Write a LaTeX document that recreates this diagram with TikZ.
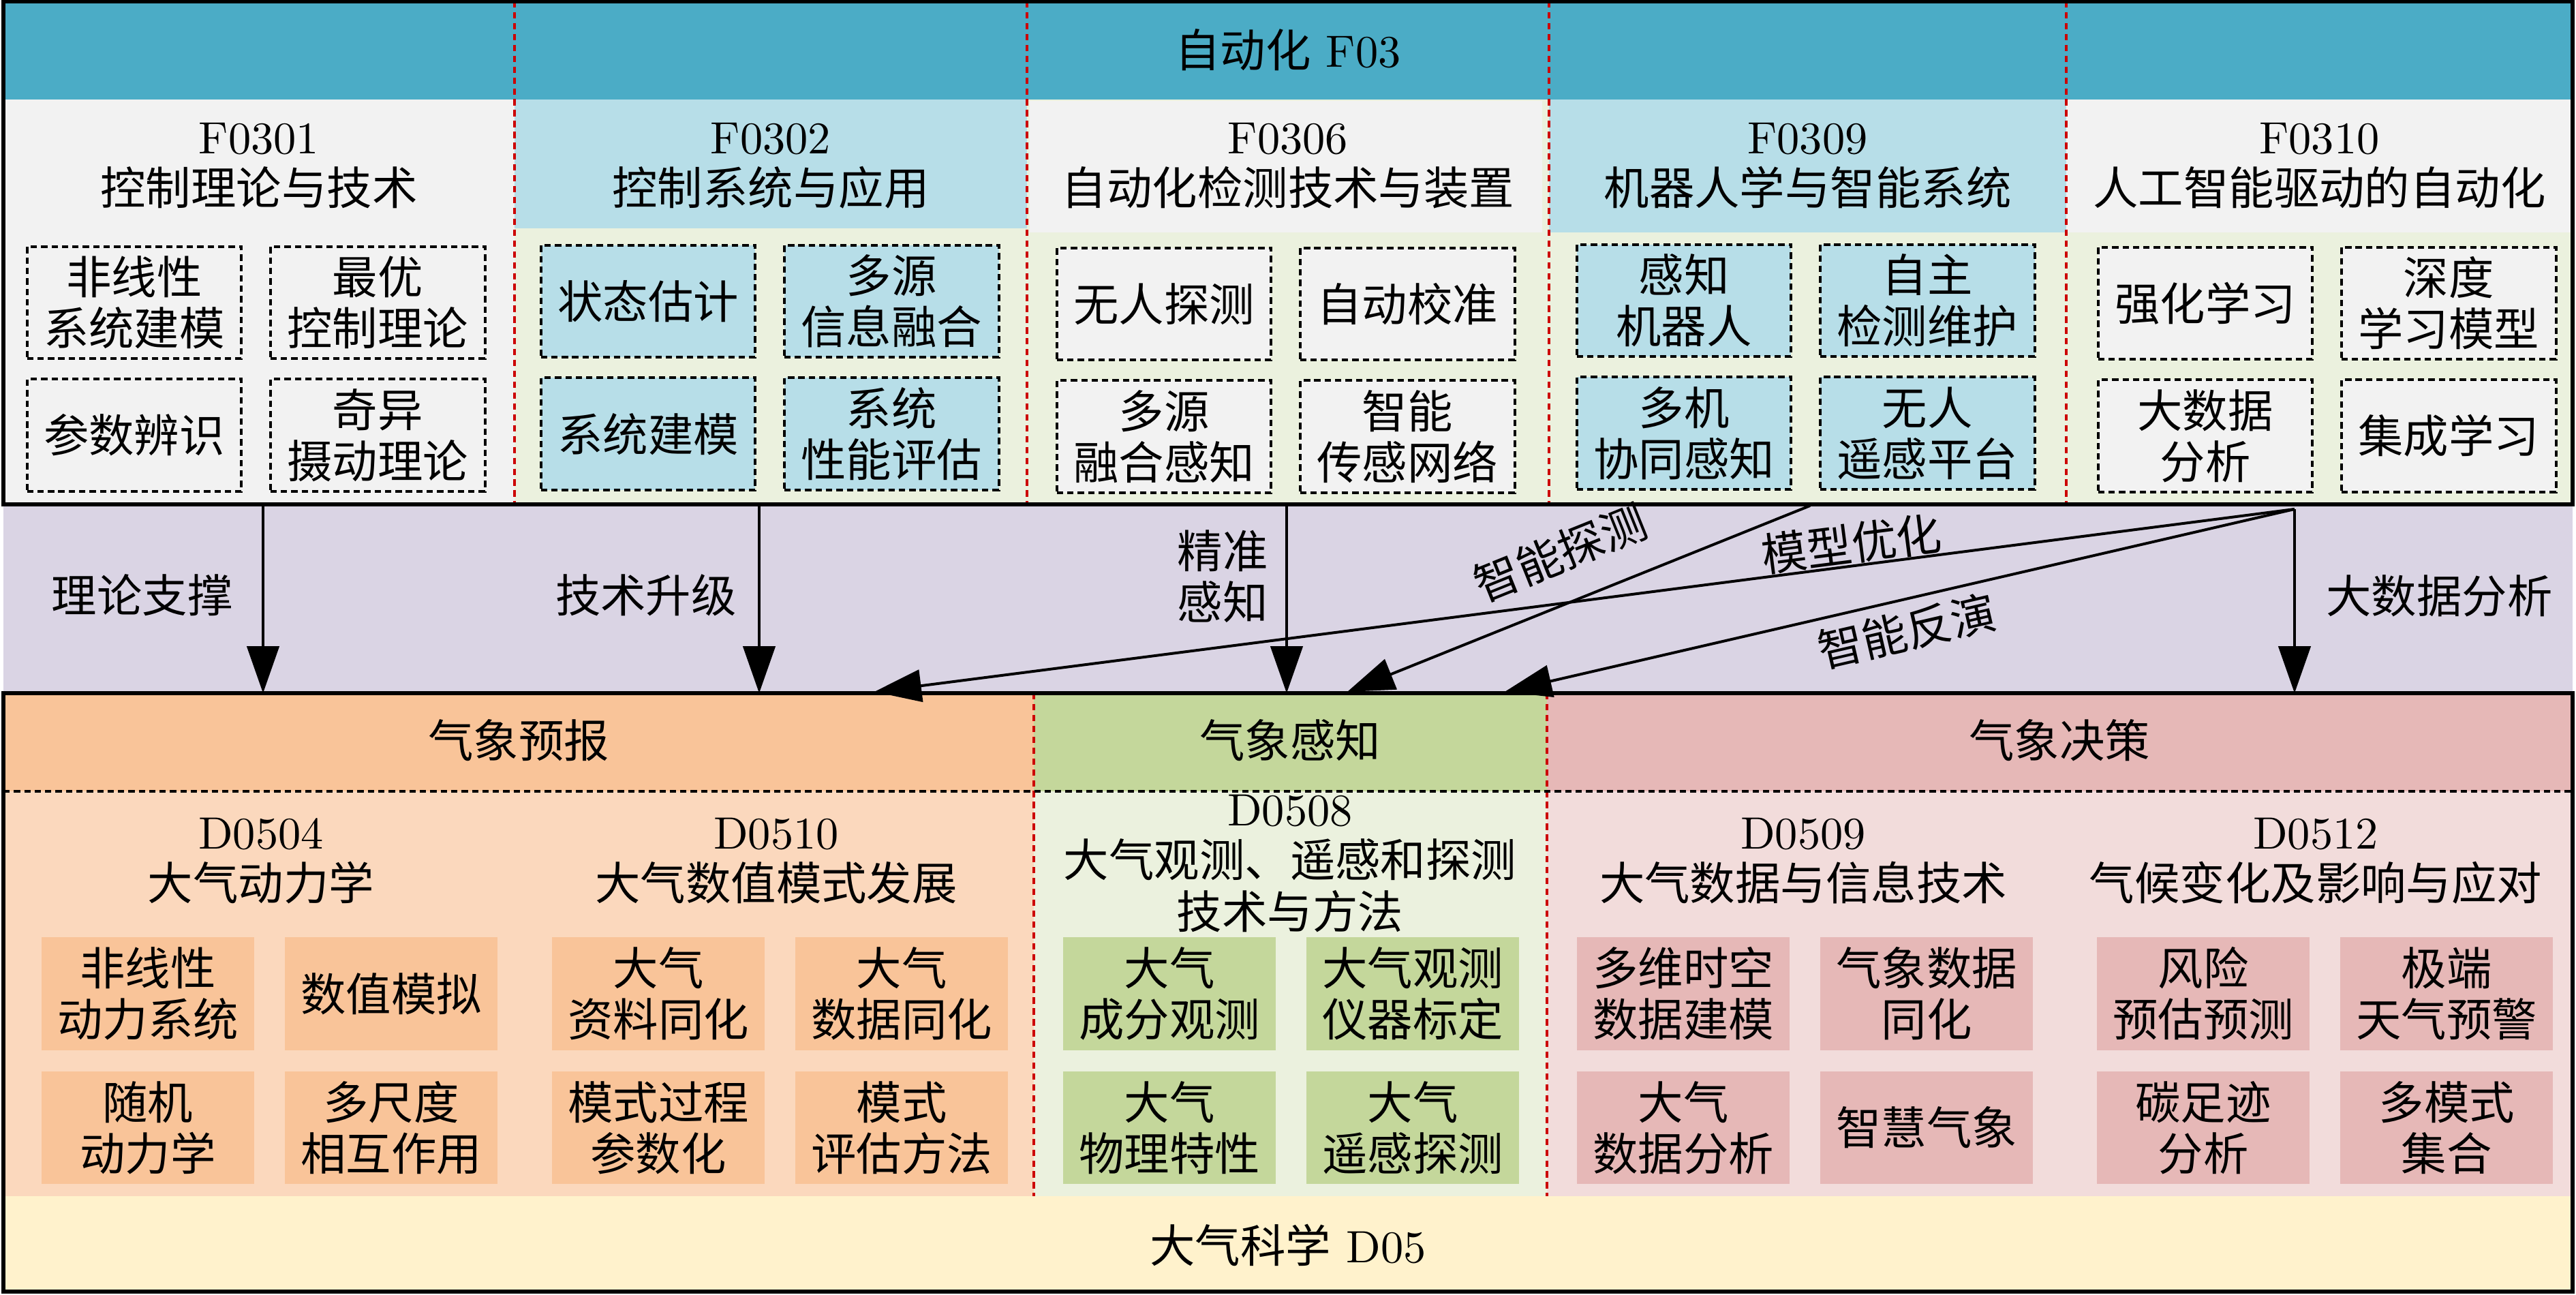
\documentclass[tikz,border=0pt]{standalone}
\usepackage{fontspec}
\newfontfamily\cjk{Noto Sans CJK SC}
\usepackage{tikz}
\usetikzlibrary{positioning, arrows.meta}

\definecolor{hdrteal}{RGB}{75,172,198}
\definecolor{ltblue}{RGB}{183,222,232}
\definecolor{ltgray}{RGB}{242,242,242}
\definecolor{ltgreen}{RGB}{235,241,222}
\definecolor{lavend}{RGB}{218,212,228}
\definecolor{orgdark}{RGB}{249,196,153}
\definecolor{orglight}{RGB}{251,216,189}
\definecolor{grndark}{RGB}{196,215,155}
\definecolor{reddark}{RGB}{230,184,183}
\definecolor{redlight}{RGB}{242,220,219}
\definecolor{ylwband}{RGB}{255,242,204}
\definecolor{dashred}{RGB}{204,0,0}

\newcommand{\zh}{\cjk\fontsize{10pt}{11.3pt}\selectfont}

\begin{document}
\begin{tikzpicture}[x=0.5291cm,y=0.5291cm,>={Triangle[length=3.65mm,width=2.5mm]},
                    semithick,node distance=1.89cm]
\tikzstyle{fbox}=[draw=black,line width=0.6pt,dash pattern=on 1.4pt off 0.9pt,minimum width=1.665cm,minimum height=0.87cm,inner sep=1pt,align=center,font=\zh]
\tikzstyle{sbox}=[draw=none,minimum width=1.65cm,minimum height=0.875cm,inner sep=1pt,align=center,font=\zh]
\tikzstyle{ttl}=[align=center,inner sep=1pt]
\tikzstyle{lbl}=[inner sep=1pt,font=\zh]
\tikzstyle{rdash}=[draw=dashred,line width=0.5pt,dash pattern=on 1.4pt off 1pt]
\tikzset{font=\fontsize{10pt}{11.3pt}\selectfont}

\useasboundingbox (0,0) rectangle (37.8,-19);

        % top block: F03
        \fill[hdrteal] (0.05,-0.02) rectangle (37.75,-1.46);
        \fill[ltgray]  (0.05,-1.46) rectangle (7.55,-7.40);
        \fill[ltblue]  (7.55,-1.46) rectangle (15.07,-3.35);
        \fill[ltgreen] (7.55,-3.35) rectangle (15.07,-7.40);
        \fill[ltgreen] (15.07,-1.46) rectangle (22.73,-7.40);
        \fill[ltgray]  (15.11,-1.48) rectangle (22.63,-3.41);
        \fill[ltblue]  (22.73,-1.46) rectangle (30.32,-3.41);
        \fill[ltgreen] (22.73,-3.41) rectangle (30.32,-7.40);
        \fill[ltgray]  (30.32,-1.46) rectangle (37.75,-3.41);
        \fill[ltgreen] (30.32,-3.41) rectangle (37.75,-7.40);

        % middle band
        \fill[lavend]  (0.05,-7.40) rectangle (37.75,-10.17);

        % lower block: D05
        \fill[orgdark]  (0.05,-10.17) rectangle (15.17,-11.61);
        \fill[orglight] (0.05,-11.61) rectangle (15.17,-17.55);
        \fill[grndark]  (15.17,-10.17) rectangle (22.70,-11.61);
        \fill[ltgreen]  (15.17,-11.61) rectangle (22.70,-17.55);
        \fill[reddark]  (22.70,-10.17) rectangle (37.75,-11.61);
        \fill[redlight] (22.70,-11.61) rectangle (37.75,-17.55);
        \fill[ylwband]  (0.05,-17.55) rectangle (37.75,-18.95);

        \foreach \x in {7.55,15.07,22.73,30.32}
            \draw[rdash] (\x,-0.02) -- (\x,-7.40);
        \foreach \x in {15.17,22.70}
            \draw[rdash] (\x,-10.17) -- (\x,-17.55);
        \draw[line width=0.6pt,dash pattern=on 1.4pt off 0.9pt] (0.05,-11.61) -- (37.75,-11.61);

        \draw[thick] (0.05,-0.02) rectangle (37.75,-7.40);
        \draw[thick] (0.05,-10.17) rectangle (37.75,-18.95);

        \node[ttl] (hd) at (18.90,-0.73) {{\cjk 自动化} F03};

        \node[ttl] (t1) at (3.80,-2.43)   {F0301\\{\cjk 控制理论与技术}};
        \node[ttl] (t2) at (11.31,-2.43)  {F0302\\{\cjk 控制系统与应用}};
        \node[ttl] (t3) at (18.90,-2.43)  {F0306\\{\cjk 自动化检测技术与装置}};
        \node[ttl] (t4) at (26.525,-2.43) {F0309\\{\cjk 机器人学与智能系统}};
        \node[ttl] (t5) at (34.035,-2.43) {F0310\\{\cjk 人工智能驱动的自动化}};

        \node[fbox,fill=ltgray]                      (b11) at (1.97,-4.44) {非线性\\系统建模};
        \node[fbox,fill=ltgray]                      (b12) [right of=b11]  {最优\\控制理论};
        \node[fbox,fill=ltgray,node distance=1.03cm] (b13) [below of=b11]  {参数辨识};
        \node[fbox,fill=ltgray]                      (b14) [right of=b13]  {奇异\\摄动理论};

        \node[fbox,fill=ltblue]                      (b21) at (9.51,-4.42) {状态估计};
        \node[fbox,fill=ltblue]                      (b22) [right of=b21]  {多源\\信息融合};
        \node[fbox,fill=ltblue,node distance=1.03cm] (b23) [below of=b21]  {系统建模};
        \node[fbox,fill=ltblue]                      (b24) [right of=b23]  {系统\\性能评估};

        \node[fbox,fill=ltgray]                      (b31) at (17.08,-4.46) {无人探测};
        \node[fbox,fill=ltgray]                      (b32) [right of=b31]  {自动校准};
        \node[fbox,fill=ltgray,node distance=1.03cm] (b33) [below of=b31]  {多源\\融合感知};
        \node[fbox,fill=ltgray]                      (b34) [right of=b33]  {智能\\传感网络};

        \node[fbox,fill=ltblue]                      (b41) at (24.71,-4.41) {感知\\机器人};
        \node[fbox,fill=ltblue]                      (b42) [right of=b41]  {自主\\检测维护};
        \node[fbox,fill=ltblue,node distance=1.03cm] (b43) [below of=b41]  {多机\\协同感知};
        \node[fbox,fill=ltblue]                      (b44) [right of=b43]  {无人\\遥感平台};

        \node[fbox,fill=ltgray]                      (b51) at (32.36,-4.45) {强化学习};
        \node[fbox,fill=ltgray]                      (b52) [right of=b51]  {深度\\学习模型};
        \node[fbox,fill=ltgray,node distance=1.03cm] (b53) [below of=b51]  {大数据\\分析};
        \node[fbox,fill=ltgray]                      (b54) [right of=b53]  {集成学习};

        \node[ttl,font=\zh] (g1) at (7.61,-10.86)  {气象预报};
        \node[ttl,font=\zh] (g2) at (18.93,-10.86) {气象感知};
        \node[ttl,font=\zh] (g3) at (30.22,-10.86) {气象决策};

        \node[ttl] (p1) at (3.83,-12.63)  {D0504\\{\cjk 大气动力学}};
        \node[ttl] (p2) at (11.39,-12.63) {D0510\\{\cjk 大气数值模式发展}};
        \node[ttl] (p3) at (18.93,-12.67) {D0508\\{\cjk 大气观测、遥感和探测}\\{\cjk 技术与方法}};
        \node[ttl] (p4) at (26.46,-12.63) {D0509\\{\cjk 大气数据与信息技术}};
        \node[ttl] (p5) at (33.98,-12.63) {D0512\\{\cjk 气候变化及影响与应对}};

        \node[sbox,fill=orgdark]                      (q11) at (2.17,-14.58) {非线性\\动力系统};
        \node[sbox,fill=orgdark]                      (q12) [right of=q11]   {数值模拟};
        \node[sbox,fill=orgdark,node distance=1.04cm] (q13) [below of=q11]   {随机\\动力学};
        \node[sbox,fill=orgdark]                      (q14) [right of=q13]   {多尺度\\相互作用};

        \node[sbox,fill=orgdark]                      (q21) at (9.66,-14.58) {大气\\资料同化};
        \node[sbox,fill=orgdark]                      (q22) [right of=q21]   {大气\\数据同化};
        \node[sbox,fill=orgdark,node distance=1.04cm] (q23) [below of=q21]   {模式过程\\参数化};
        \node[sbox,fill=orgdark]                      (q24) [right of=q23]   {模式\\评估方法};

        \node[sbox,fill=grndark]                      (q31) at (17.16,-14.58) {大气\\成分观测};
        \node[sbox,fill=grndark]                      (q32) [right of=q31]    {大气观测\\仪器标定};
        \node[sbox,fill=grndark,node distance=1.04cm] (q33) [below of=q31]    {大气\\物理特性};
        \node[sbox,fill=grndark]                      (q34) [right of=q33]    {大气\\遥感探测};

        \node[sbox,fill=reddark]                      (q41) at (24.70,-14.58) {多维时空\\数据建模};
        \node[sbox,fill=reddark]                      (q42) [right of=q41]    {气象数据\\同化};
        \node[sbox,fill=reddark,node distance=1.04cm] (q43) [below of=q41]    {大气\\数据分析};
        \node[sbox,fill=reddark]                      (q44) [right of=q43]    {智慧气象};

        \node[sbox,fill=reddark]                      (q51) at (32.33,-14.58) {风险\\预估预测};
        \node[sbox,fill=reddark]                      (q52) [right of=q51]    {极端\\天气预警};
        \node[sbox,fill=reddark,node distance=1.04cm] (q53) [below of=q51]    {碳足迹\\分析};
        \node[sbox,fill=reddark]                      (q54) [right of=q53]    {多模式\\集合};

        \node[ttl] (ds) at (18.90,-18.27) {{\cjk 大气科学} D05};

        % arrow ends
        \coordinate (s1) at (3.86,-7.40);
        \coordinate (s2) at (11.14,-7.40);
        \coordinate (s3) at (18.88,-7.40);
        \coordinate (s4) at (26.56,-7.42);
        \coordinate (s5) at (33.67,-7.47);
        \coordinate (e1) at (3.86,-10.17);
        \coordinate (e2) at (11.14,-10.17);
        \coordinate (e3) at (18.88,-10.17);
        \coordinate (e4) at (19.77,-10.15);
        \coordinate (e5) at (12.83,-10.15);
        \coordinate (e6) at (22.08,-10.15);
        \coordinate (e7) at (33.67,-10.17);

        \path[->]
        (s1)   edge node[lbl,left=0.19cm,pos=0.48] (l1) {理论支撑}            (e1)
        (s2)   edge node[lbl,left=0.13cm,pos=0.48] (l2) {技术升级}            (e2)
        (s3)   edge node[lbl,left=0.10cm,pos=0.38,align=center] (l3) {精准\\感知} (e3)
        (s4)   edge node[lbl,sloped,above=5pt,pos=0.50] (l4) {智能探测}       (e4)
        (s5)   edge node[lbl,sloped,above=-1pt,pos=0.31] (l5) {模型优化}      (e5)
        (s5)   edge node[lbl,sloped,below=1pt,pos=0.50] (l6) {智能反演}       (e6)
        (s5)   edge node[lbl,right=0.20cm,pos=0.47] (l7) {大数据分析}         (e7)
        ; %end path

\end{tikzpicture}
\end{document}
